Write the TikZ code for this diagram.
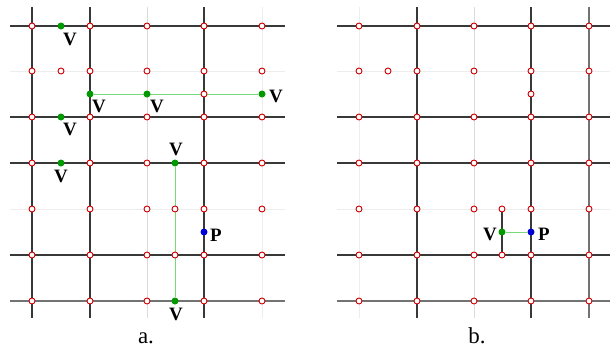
\documentclass[tikz,border=0pt]{standalone}
\usepackage{fontspec}
\setmainfont{Liberation Serif}
\usetikzlibrary{backgrounds}
\begin{document}
\begin{tikzpicture}[x=1bp,y=-1bp,
  dk/.style={draw=black!78,line width=1.1bp},
  md/.style={draw=black!55,line width=1.1bp},
  lt/.style={draw=black!14,line width=1bp},
  vl/.style={draw=black!7,line width=1bp},
  gline/.style={draw=green!45!white!85!black,line width=0.9bp},
  rc/.style={circle,draw=red!80!black,fill=white,line width=0.9bp,inner sep=0pt,minimum size=6bp},
  gdot/.style={circle,fill=green!60!black,inner sep=0pt,minimum size=7bp},
  bdot/.style={circle,fill=blue!85!black,inner sep=0pt,minimum size=7bp},
  lab/.style={font=\fontsize{19}{19}\selectfont\bfseries,inner sep=0pt},
  captxt/.style={font=\fontsize{23}{23}\selectfont,inner sep=0pt,anchor=base}]
\useasboundingbox (0,0) rectangle (612,350);
% ---------- panel a: points ----------
\foreach \y [count=\r] in {26,71,117,163,209,255,301}
  \foreach \x [count=\c] in {32,90,147,204,262}
    \node[rc] (a-\r-\c) at (\x,\y) {};
\node[rc] (a-m1) at (61,71) {};
\node[rc] (a-m2) at (204,94) {};
\node[rc] (a-m3) at (175,209) {};
\node[rc] (a-m4) at (175,255) {};
\node[gdot] (v1) at (61,26) {};
\node[gdot] (v2) at (90,94) {};
\node[gdot] (v3) at (147,94) {};
\node[gdot] (v4) at (262,94) {};
\node[gdot] (v5) at (61,117) {};
\node[gdot] (v6) at (61,163) {};
\node[gdot] (v7) at (175,163) {};
\node[gdot] (v8) at (175,301) {};
\node[bdot] (pa) at (204,232) {};
\node[lab] (lv1) at (70,39) {V};
\node[lab] (lv2) at (99,106) {V};
\node[lab] (lv3) at (157,106) {V};
\node[lab] (lv4) at (276,96) {V};
\node[lab] (lv5) at (70,129) {V};
\node[lab] (lv6) at (61,176) {V};
\node[lab] (lv7) at (176,149) {V};
\node[lab] (lv8) at (176,314) {V};
\node[lab] (lpa) at (216,235) {P};
\node[captxt] (ca) at (146,343) {a.};
% ---------- panel b: points ----------
\foreach \y [count=\r] in {26,71,117,163,209,255,301}
  \foreach \x [count=\c] in {359,417,474,531,589}
    \node[rc] (b-\r-\c) at (\x,\y) {};
\node[rc] (b-m1) at (388,71) {};
\node[rc] (b-m2) at (531,94) {};
\node[rc] (b-m3) at (502,209) {};
\node[rc] (b-m4) at (502,255) {};
\node[gdot] (vb) at (502,232) {};
\node[bdot] (pb) at (531,232) {};
\node[lab] (lvb) at (490,234) {V};
\node[lab] (lpb) at (544,234) {P};
\node[captxt] (cb) at (477,343) {b.};
\begin{pgfonlayer}{background}
% ---------- panel a: grid ----------
\draw[dk] (10,26) -- (285,26);
\draw[vl] (10,71) -- (285,71);
\draw[dk] (10,117) -- (285,117);
\draw[dk] (10,163) -- (285,163);
\draw[vl] (10,209) -- (285,209);
\draw[dk] (10,255) -- (285,255);
\draw[md] (10,301) -- (285,301);
\draw[dk] (32,7) -- (32,318);
\draw[dk] (90,7) -- (90,318);
\draw[lt] (147,7) -- (147,318);
\draw[dk] (204,7) -- (204,318);
\draw[vl] (262,7) -- (262,318);
\draw[gline] (v2) -- (v4);
\draw[gline] (v7) -- (v8);
% ---------- panel b: grid ----------
\draw[dk] (337,26) -- (610,26);
\draw[vl] (337,71) -- (610,71);
\draw[dk] (337,117) -- (610,117);
\draw[dk] (337,163) -- (610,163);
\draw[vl] (337,209) -- (610,209);
\draw[dk] (337,255) -- (610,255);
\draw[md] (337,301) -- (610,301);
\draw[vl] (359,7) -- (359,318);
\draw[dk] (417,7) -- (417,318);
\draw[lt] (474,7) -- (474,318);
\draw[dk] (531,7) -- (531,318);
\draw[md] (589,7) -- (589,318);
\draw[dk] (b-m3) -- (b-m4);
\draw[gline] (vb) -- (pb);
\end{pgfonlayer}
\end{tikzpicture}
\end{document}
